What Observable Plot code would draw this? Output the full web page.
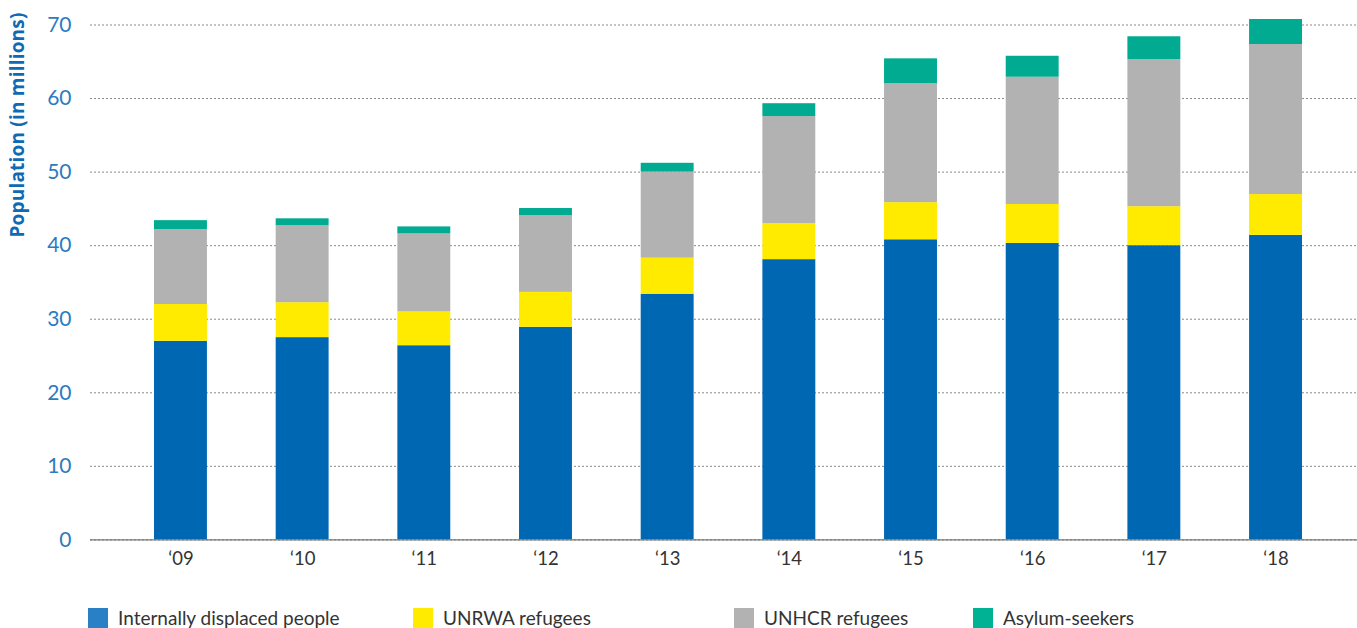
<!DOCTYPE html>
<html>
<head>
<meta charset="utf-8">
<script src="https://cdn.jsdelivr.net/npm/d3@7"></script>
<script src="https://cdn.jsdelivr.net/npm/@observablehq/plot@0.6"></script>
<style>
  html, body { margin: 0; padding: 0; background: #fff; }
  #wrap { position: relative; width: 1357px; height: 628px; overflow: hidden; font-family: Lato, "Open Sans", sans-serif; }
  #ylabel { position: absolute; left: 17px; top: 125px; transform: translate(-50%, -50%) rotate(-90deg); white-space: nowrap;
            font-family: "Open Sans", Lato, sans-serif; font-weight: 700; font-size: 19px; letter-spacing: 0.2px; color: #0d6ab4; }
  .leg { position: absolute; top: 607px; height: 21px; display: flex; align-items: center; font-size: 19px; color: #333; font-weight: 400; white-space: nowrap; }
  .sw { width: 20px; height: 20px; margin-right: 10px; display: inline-block; }
</style>
</head>
<body>
<div id="wrap">
  <div id="chart"></div>
  <div id="ylabel">Population (in millions)</div>
  <div id="legend"></div>
</div>
<script>
const years = ["‘09", "‘10", "‘11", "‘12", "‘13", "‘14", "‘15", "‘16", "‘17", "‘18"];
const seriesNames = ["Internally displaced people", "UNRWA refugees", "UNHCR refugees", "Asylum-seekers"];
const idp     = [27.0, 27.5, 26.4, 28.9, 33.4, 38.1, 40.8, 40.3, 40.0, 41.4];
const unrwa   = [5.0, 4.75, 4.6, 4.75, 4.9, 4.9, 5.05, 5.3, 5.3, 5.55];
const unhcr   = [10.2, 10.45, 10.6, 10.45, 11.7, 14.55, 16.15, 17.3, 20.0, 20.4];
const asylum  = [1.2, 0.95, 0.95, 0.95, 1.2, 1.75, 3.4, 2.85, 3.1, 3.4];
const yTicks  = [0, 10, 20, 30, 40, 50, 60, 70];

const barColors = ["#0068b3", "#ffeb00", "#b2b2b2", "#00ab91"];
const legendColors = ["#2a80c4", "#ffeb00", "#b2b2b2", "#00b294"];

const seriesValues = [idp, unrwa, unhcr, asylum];
const data = [];
seriesNames.forEach((s, si) => years.forEach((y, i) => data.push({year: y, series: s, order: si, value: seriesValues[si][i]})));

const chart = Plot.plot({
  width: 1357,
  height: 585,
  marginLeft: 90,
  marginRight: 0,
  marginTop: 24.5,
  marginBottom: 45.6,
  style: {fontFamily: "Lato, 'Open Sans', sans-serif", background: "#fff"},
  x: {domain: years, range: [90, 1366], paddingInner: 0.565, paddingOuter: 0.526, round: false, label: null},
  y: {domain: [0, 70], label: null},
  color: {domain: seriesNames, range: barColors},
  marks: [
    Plot.gridY(yTicks, {stroke: "#888", strokeOpacity: 1, strokeDasharray: "2,2", strokeWidth: 1}),
    Plot.barY(data, Plot.stackY({order: seriesNames}, {x: "year", y: "value", fill: "series", inset: 0})),
    Plot.ruleY([0], {stroke: "#777", strokeWidth: 1.2}),
    Plot.axisY({ticks: yTicks, tickSize: 0, tickPadding: 19, fontSize: 21, fontWeight: 400, fill: "#2b7bbf", label: null}),
    Plot.axisX({tickSize: 0, tickPadding: 12, fontSize: 18.5, fill: "#333", label: null})
  ]
});
document.getElementById("chart").appendChild(chart);

const legLefts = [88, 413, 734, 973];
const legend = document.getElementById("legend");
seriesNames.forEach((s, i) => {
  const d = document.createElement("div");
  d.className = "leg";
  d.style.left = legLefts[i] + "px";
  const sw = document.createElement("span");
  sw.className = "sw";
  sw.style.background = legendColors[i];
  d.appendChild(sw);
  d.appendChild(document.createTextNode(s));
  legend.appendChild(d);
});
</script>
</body>
</html>
